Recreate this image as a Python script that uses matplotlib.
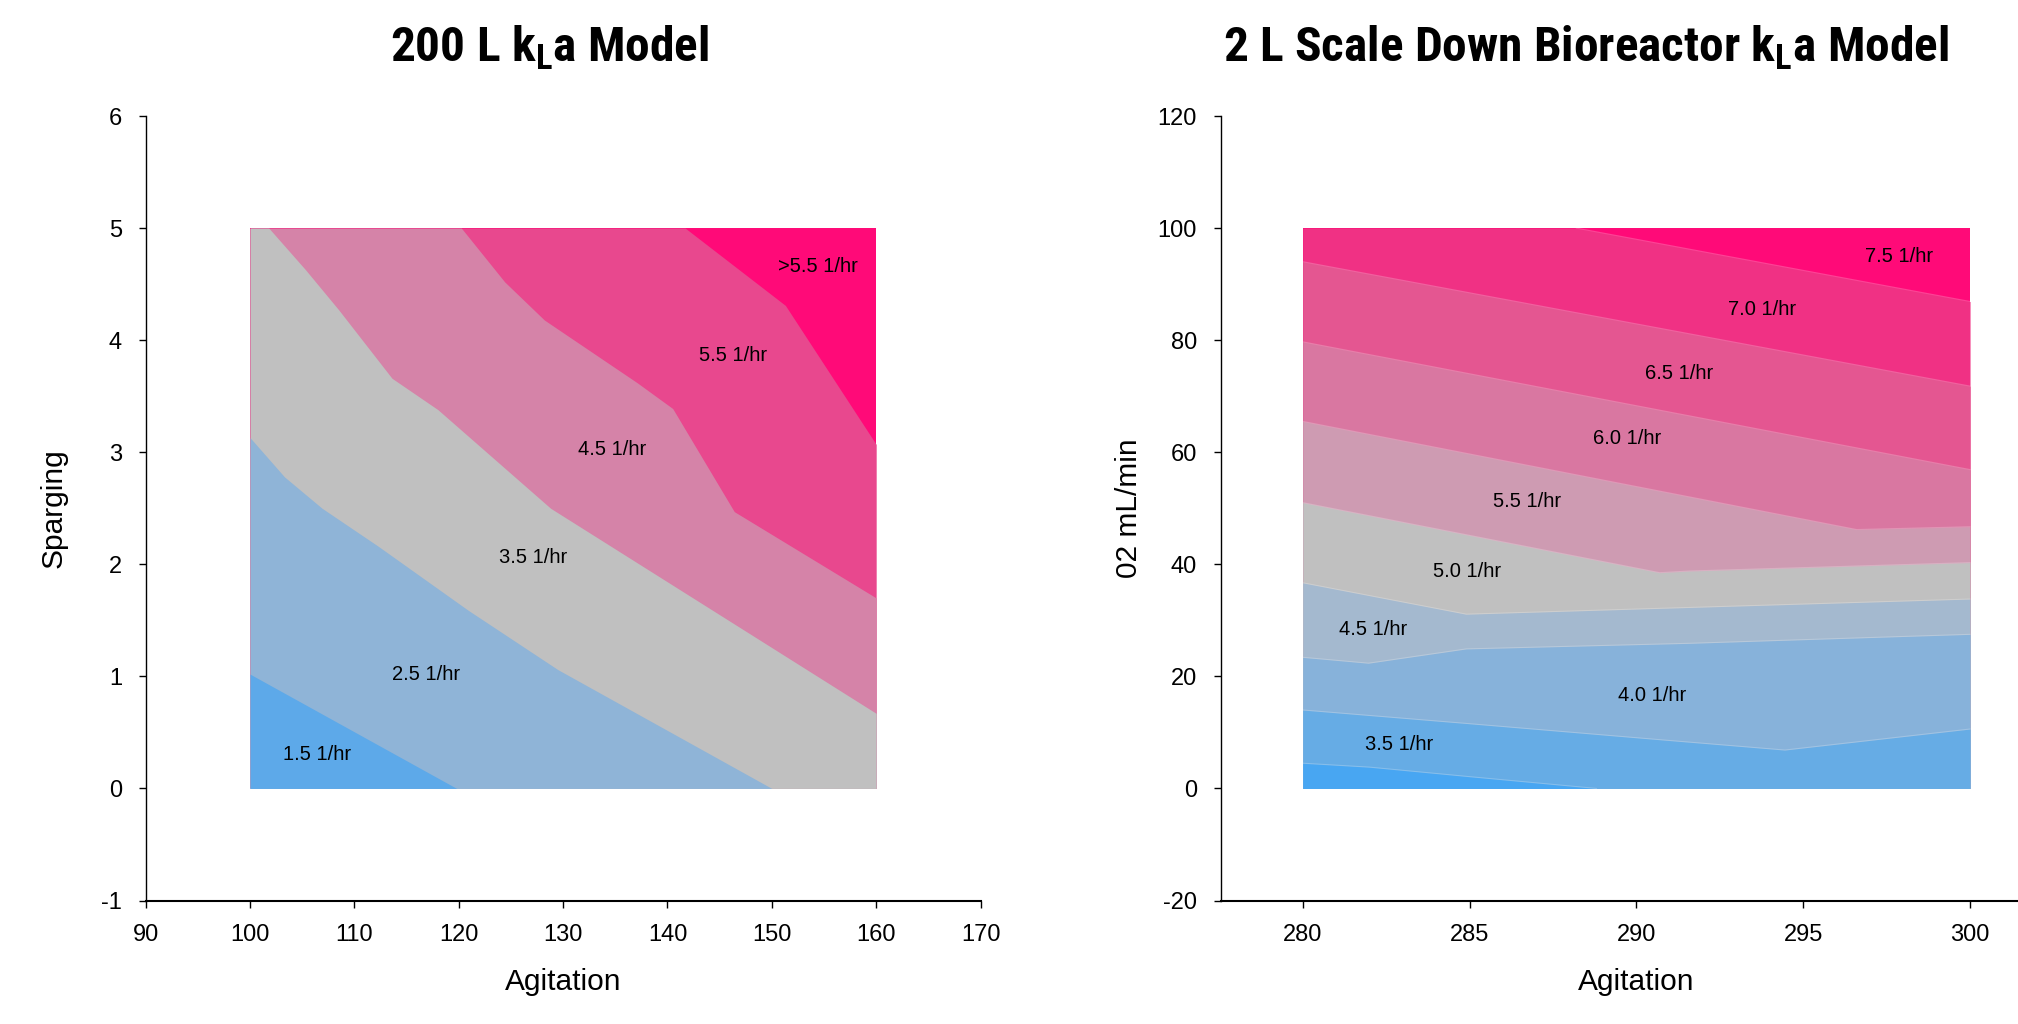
import matplotlib
matplotlib.use("Agg")
import matplotlib.pyplot as plt
from matplotlib import font_manager

# --- 200 L model: kLa contour boundaries (agitation, sparging) ---
agit_200 = [100, 160]
sparge_200 = [0, 5]
b200_15 = ([100.0, 119.8], [1.02, 0.0])
b200_25 = ([100.0, 103.3, 106.9, 112.3, 120.9, 129.5, 150.0],
           [3.13, 2.78, 2.50, 2.16, 1.59, 1.06, 0.0])
b200_35 = ([101.8, 105.3, 108.5, 113.6, 118.0, 128.8, 160.0],
           [5.0, 4.63, 4.27, 3.66, 3.38, 2.50, 0.67])
b200_45 = ([120.25, 124.4, 128.2, 137.1, 140.5, 146.4, 160.0],
           [5.0, 4.52, 4.18, 3.62, 3.39, 2.47, 1.70])
b200_55 = ([141.7, 151.3, 160.0], [5.0, 4.31, 3.07])
bounds_200 = [b200_15, b200_25, b200_35, b200_45, b200_55]
colors_200 = ["#5DA9E9", "#8FB4D7", "#C0C0C0", "#D583A8", "#E8488E", "#FF0A78"]
labels_200 = ["1.5 1/hr", "2.5 1/hr", "3.5 1/hr", "4.5 1/hr", "5.5 1/hr", ">5.5 1/hr"]
label_x_200 = [106.4, 116.9, 127.1, 134.7, 146.3, 154.4]
label_y_200 = [0.30, 1.02, 2.06, 3.02, 3.86, 4.66]

# --- 2 L scale down model: kLa contour boundaries (agitation, O2 flow) ---
agit_2 = [280, 300]
o2_2 = [0, 100]
b2_30 = ([280.0, 282.0, 285.0, 288.8], [4.5, 3.8, 2.1, 0.0])
b2_35 = ([280.0, 284.9, 290.9, 294.45, 300.0], [14.0, 11.6, 8.6, 6.85, 10.6])
b2_40 = ([280.0, 281.97, 284.9, 291.6, 300.0], [23.4, 22.35, 24.9, 25.9, 27.5])
b2_45 = ([280.0, 284.9, 291.6, 300.0], [36.7, 31.1, 32.3, 33.8])
b2_50 = ([280.0, 290.7, 291.6, 300.0], [51.0, 38.5, 38.8, 40.3])
b2_55 = ([280.0, 296.6, 300.0], [65.5, 46.2, 46.7])
b2_60 = ([280.0, 300.0], [79.7, 56.9])
b2_65 = ([280.0, 300.0], [94.0, 71.8])
b2_70 = ([288.2, 300.0], [100.0, 86.9])
bounds_2 = [b2_30, b2_35, b2_40, b2_45, b2_50, b2_55, b2_60, b2_65, b2_70]
colors_2 = ["#48A6F2", "#66ACE5", "#87B2DA", "#A4B9CF", "#C0C0C0",
            "#CE9BB2", "#D977A1", "#E45691", "#F03184", "#FF0A78"]
labels_2 = ["3.5 1/hr", "4.0 1/hr", "4.5 1/hr", "5.0 1/hr", "5.5 1/hr",
            "6.0 1/hr", "6.5 1/hr", "7.0 1/hr", "7.5 1/hr"]
label_x_2 = [282.88, 290.46, 282.12, 284.93, 286.73, 289.71, 291.29, 293.76, 297.88]
label_y_2 = [7.8, 16.6, 28.4, 38.8, 51.2, 62.4, 74.0, 85.4, 95.0]

# fonts
names = {f.name for f in font_manager.fontManager.ttflist}
body = "Liberation Sans" if "Liberation Sans" in names else "DejaVu Sans"
narrow = next((n for n in ["Liberation Sans Narrow", "Roboto Condensed", "Arial Narrow"]
               if n in names), body)
plt.rcParams["font.family"] = [body, "DejaVu Sans"]
plt.rcParams["axes.unicode_minus"] = False
plt.rcParams["mathtext.fontset"] = "custom"
plt.rcParams["mathtext.rm"] = narrow + ":bold"
plt.rcParams["mathtext.bf"] = narrow + ":bold"


def draw_bands(ax, xr, yr, bounds, colors, seams=False):
    # top band first, then each lower band stacked over it
    ax.fill_between(xr, yr[0], yr[1], color=colors[-1], lw=0)
    for (xs, ys), col in reversed(list(zip(bounds, colors[:-1]))):
        xs, ys = list(xs), list(ys)
        if xs[0] > xr[0]:
            xs = [xr[0]] + xs
            ys = [yr[1]] + ys
        ax.fill_between(xs, yr[0], ys, color=col, lw=0)
    if seams:
        for xs, ys in bounds:
            ax.plot(xs, ys, color="white", alpha=0.22, lw=0.8)


def style_axes(ax, xlim, ylim, xticks, yticks, ylabel):
    ax.set_xlim(xlim)
    ax.set_ylim(ylim)
    ax.set_xticks(xticks)
    ax.set_yticks(yticks)
    for s in ["top", "right"]:
        ax.spines[s].set_visible(False)
    ax.spines["left"].set_linewidth(1.0)
    ax.spines["bottom"].set_linewidth(1.5)
    ax.tick_params(direction="out", length=5, width=1.0, pad=12, labelsize=17)
    ax.set_xlabel("Agitation", fontsize=21.5)
    ax.set_ylabel(ylabel, fontsize=21.5)
    ax.xaxis.set_label_coords(0.5, -0.104)
    ax.xaxis.label.set_va("center")
    ax.yaxis.set_label_coords(-0.110, 0.5)
    ax.yaxis.label.set_va("center")


fig = plt.figure(figsize=(20.18, 10.24), dpi=100)
ax1 = fig.add_axes([0.0722, 0.1206, 0.4137, 0.7661])
ax2 = fig.add_axes([0.6049, 0.1206, 0.4120, 0.7661])

draw_bands(ax1, agit_200, sparge_200, bounds_200, colors_200)
for t, x, y in zip(labels_200, label_x_200, label_y_200):
    ax1.text(x, y, t, ha="center", va="center", fontsize=14.5)
style_axes(ax1, (90, 170), (-1, 6), range(90, 171, 10), range(-1, 7), "Sparging")

draw_bands(ax2, agit_2, o2_2, bounds_2, colors_2, seams=True)
for t, x, y in zip(labels_2, label_x_2, label_y_2):
    ax2.text(x, y, t, ha="center", va="center", fontsize=14.5)
style_axes(ax2, (277.54, 302.46), (-20, 120), range(280, 301, 5), range(-20, 121, 20),
           "02 mL/min")

title_kw = dict(ha="center", va="center", fontsize=35.5, fontweight="bold",
                family=[narrow, "DejaVu Sans"])
fig.text(0.2725, 0.953, r"200 L k$_\mathrm{L}$a Model", **title_kw)
fig.text(0.7857, 0.953, r"2 L Scale Down Bioreactor k$_\mathrm{L}$a Model", **title_kw)

fig.savefig("out.png", dpi=100, facecolor="white")
